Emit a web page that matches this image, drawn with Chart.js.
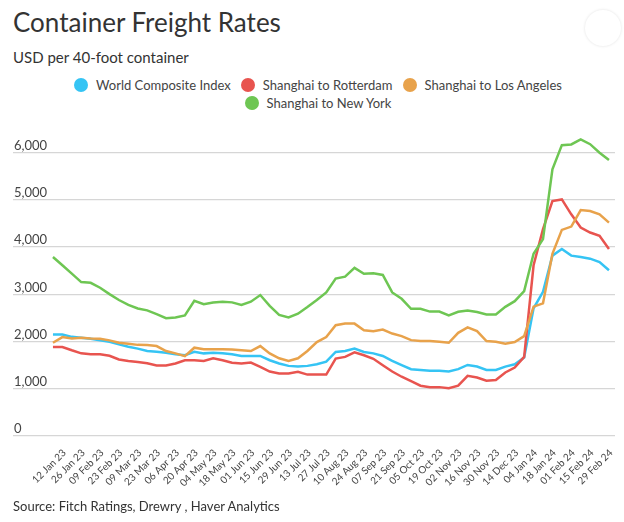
<!DOCTYPE html>
<html>
<head>
<meta charset="utf-8">
<script src="https://cdn.jsdelivr.net/npm/chart.js@4.4.1/dist/chart.umd.min.js"></script>
<style>
  body { margin: 0; background: #fff; font-family: Lato, sans-serif; color: #333; }
  #wrap { position: relative; width: 624px; height: 522px; overflow: hidden; }
  #title { position: absolute; left: 13px; top: 6px; font-size: 26px; color: #333; }
  #subtitle { position: absolute; left: 13px; top: 48px; font-size: 15px; color: #333; }
  #legend { position: absolute; left: 12px; width: 612px; top: 77px; text-align: center; font-size: 13px; color: #444; }
  .row { height: 18px; }
  .item { display: inline-flex; align-items: center; margin: 0 5px; }
  .dot { width: 14px; height: 14px; border-radius: 50%; margin-right: 8px; }
  #chartBox { position: absolute; left: 0; top: 125px; width: 624px; height: 375px; }
  #source { position: absolute; left: 13px; top: 498px; font-size: 13px; color: #333; }
  #btn { position: absolute; left: 585px; top: 10px; width: 36px; height: 36px; border-radius: 50%; box-shadow: 0 0 3px rgba(0,0,0,0.12); }
</style>
</head>
<body>
<div id="wrap">
  <div id="title">Container Freight Rates</div>
  <div id="subtitle">USD per 40-foot container</div>
  <div id="btn"></div>
  <div id="legend"></div>
  <div id="chartBox"><canvas id="myChart"></canvas></div>
  <div id="source">Source: Fitch Ratings, Drewry , Haver Analytics</div>
</div>
<script>
const dates = [
  "05 Jan 23", "12 Jan 23", "19 Jan 23", "26 Jan 23", "02 Feb 23", "09 Feb 23", "16 Feb 23", "23 Feb 23",
  "02 Mar 23", "09 Mar 23", "16 Mar 23", "23 Mar 23", "30 Mar 23", "06 Apr 23", "13 Apr 23", "20 Apr 23",
  "27 Apr 23", "04 May 23", "11 May 23", "18 May 23", "25 May 23", "01 Jun 23", "08 Jun 23", "15 Jun 23",
  "22 Jun 23", "29 Jun 23", "06 Jul 23", "13 Jul 23", "20 Jul 23", "27 Jul 23", "03 Aug 23", "10 Aug 23",
  "17 Aug 23", "24 Aug 23", "31 Aug 23", "07 Sep 23", "14 Sep 23", "21 Sep 23", "28 Sep 23", "05 Oct 23",
  "12 Oct 23", "19 Oct 23", "26 Oct 23", "02 Nov 23", "09 Nov 23", "16 Nov 23", "23 Nov 23", "30 Nov 23",
  "07 Dec 23", "14 Dec 23", "21 Dec 23", "04 Jan 24", "11 Jan 24", "18 Jan 24", "25 Jan 24", "01 Feb 24",
  "08 Feb 24", "15 Feb 24", "22 Feb 24", "29 Feb 24"
];

const yTickValues = [0, 1000, 2000, 3000, 4000, 5000, 6000];

const worldComposite = [
  2150, 2150, 2100, 2080, 2060, 2030, 1995, 1940, 1890, 1850, 1800, 1785, 1765, 1730, 1710, 1785,
  1750, 1765, 1750, 1730, 1695, 1695, 1695, 1605, 1535, 1485, 1470, 1485, 1520, 1575, 1780, 1800,
  1850, 1780, 1750, 1695, 1590, 1500, 1415, 1400, 1380, 1380, 1365, 1415, 1505, 1470, 1400, 1400,
  1470, 1520, 1660, 2705, 3055, 3820, 3960, 3820, 3790, 3755, 3685, 3510
];
const shanghaiRotterdam = [
  1885, 1885, 1815, 1750, 1730, 1730, 1700, 1620, 1590, 1565, 1540, 1495, 1495, 1535, 1605, 1605,
  1590, 1645, 1605, 1550, 1535, 1555, 1465, 1365, 1325, 1325, 1360, 1300, 1300, 1300, 1640, 1675,
  1770, 1710, 1635, 1500, 1365, 1255, 1160, 1065, 1035, 1035, 1010, 1065, 1275, 1240, 1170, 1185,
  1345, 1450, 1675, 3615, 4380, 4975, 5010, 4695, 4415, 4310, 4240, 3960
];
const shanghaiLosAngeles = [
  1975, 2095, 2065, 2080, 2065, 2060, 2025, 1975, 1955, 1930, 1925, 1905, 1800, 1750, 1690, 1870,
  1835, 1835, 1835, 1830, 1815, 1800, 1905, 1750, 1645, 1590, 1645, 1800, 1990, 2095, 2345, 2380,
  2380, 2240, 2220, 2255, 2170, 2115, 2030, 2010, 2010, 1995, 1975, 2185, 2300, 2220, 2010, 1995,
  1955, 1990, 2115, 2740, 2810, 3860, 4365, 4435, 4785, 4765, 4695, 4520
];
const shanghaiNewYork = [
  3790, 3615, 3440, 3260, 3245, 3140, 3005, 2880, 2775, 2700, 2660, 2580, 2495, 2510, 2555, 2865,
  2790, 2825, 2845, 2830, 2775, 2845, 2985, 2755, 2565, 2510, 2590, 2730, 2880, 3040, 3335, 3375,
  3560, 3435, 3445, 3410, 3040, 2905, 2695, 2695, 2635, 2635, 2555, 2630, 2660, 2625, 2575, 2575,
  2735, 2855, 3070, 3860, 4170, 5650, 6160, 6175, 6280, 6180, 6000, 5845
];

const seriesNames = ["World Composite Index", "Shanghai to Rotterdam", "Shanghai to Los Angeles", "Shanghai to New York"];
const seriesColors = ["#35c4f4", "#e8544f", "#e8a24b", "#6ec653"];
const seriesValues = [worldComposite, shanghaiRotterdam, shanghaiLosAngeles, shanghaiNewYork];

// legend built by hand so it wraps like the original (3 + 1)
const legendEl = document.getElementById("legend");
[[0, 1, 2], [3]].forEach(function (rowIdx) {
  const row = document.createElement("div");
  row.className = "row";
  rowIdx.forEach(function (i) {
    const item = document.createElement("span");
    item.className = "item";
    item.innerHTML = '<span class="dot" style="background:' + seriesColors[i] + '"></span>' + seriesNames[i];
    row.appendChild(item);
  });
  legendEl.appendChild(row);
});

Chart.defaults.font.family = "Lato";

const ctx = document.getElementById("myChart").getContext("2d");
const myChart = new Chart(ctx, {
  type: "line",
  data: {
    datasets: seriesNames.map(function (name, k) {
      return {
        label: name,
        data: seriesValues[k].map(function (v, i) { return { x: i, y: v }; }),
        borderColor: seriesColors[k],
        backgroundColor: seriesColors[k],
        borderWidth: 2.5,
        pointRadius: 0,
        tension: 0,
        order: 3 - k,
      };
    }),
  },
  options: {
    responsive: true,
    maintainAspectRatio: false,
    animation: false,
    layout: { padding: { left: 11, right: 9, top: 5, bottom: 0 } },
    plugins: {
      legend: { display: false },
      tooltip: { enabled: false },
    },
    scales: {
      x: {
        type: "linear",
        min: -4.24,
        max: 59.64,
        grid: { display: false },
        border: { display: false },
        afterBuildTicks: function (axis) {
          axis.ticks = dates.map(function (d, i) { return { value: i }; }).filter(function (t) { return t.value % 2 === 1; });
        },
        afterFit: function (axis) {
          axis.height = 64;
          axis.paddingLeft = 0;
          axis.paddingRight = 0;
        },
        ticks: {
          autoSkip: false,
          minRotation: 45,
          maxRotation: 45,
          padding: 3,
          labelOffset: 2,
          color: "#444",
          font: { size: 10 },
          callback: function (value) { return dates[value]; },
        },
      },
      y: {
        min: 0,
        max: 6400,
        border: { display: false },
        grid: { color: "#d6d6d6", lineWidth: 1.3, drawTicks: false },
        afterBuildTicks: function (axis) {
          axis.ticks = yTickValues.map(function (v) { return { value: v }; });
        },
        ticks: {
          mirror: true,
          padding: 1,
          labelOffset: -7,
          color: "#444",
          font: { size: 13 },
        },
      },
    },
  },
});
</script>
</body>
</html>
